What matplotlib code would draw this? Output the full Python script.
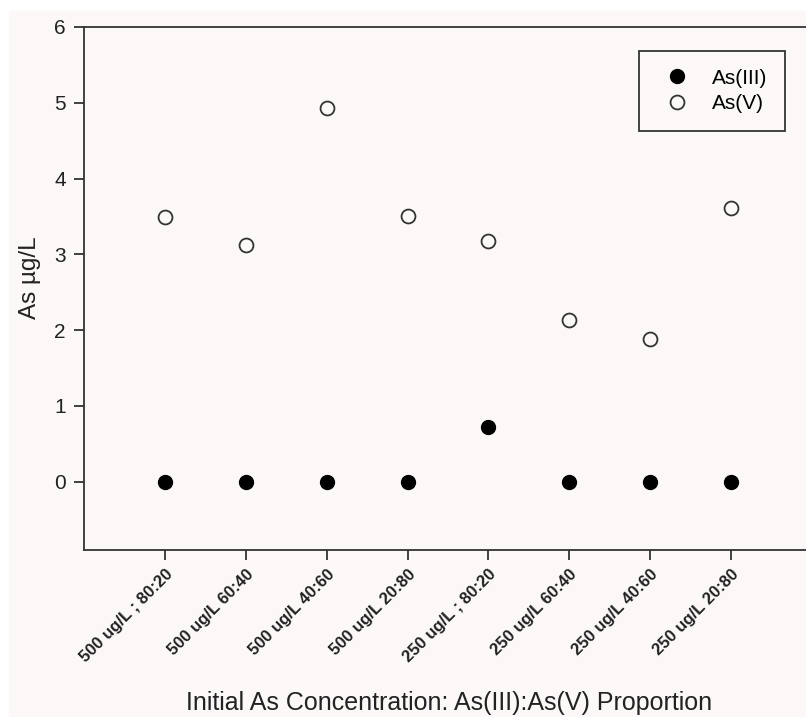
import matplotlib.pyplot as plt
from matplotlib.patches import Rectangle

plt.rcParams['font.family'] = ['Liberation Sans', 'DejaVu Sans']

# Data
categories = [
    "500 ug/L ; 80:20", "500 ug/L 60:40", "500 ug/L 40:60", "500 ug/L 20:80",
    "250 ug/L ; 80:20", "250 ug/L 60:40", "250 ug/L 40:60", "250 ug/L 20:80",
]
as_iii = [0.0, 0.0, 0.0, 0.0, 0.72, 0.0, 0.0, 0.0]
as_v = [3.49, 3.12, 4.93, 3.51, 3.18, 2.13, 1.89, 3.61]

BG = "#fcf8f7"
INK = "#222222"

fig = plt.figure(figsize=(8.06, 7.17), dpi=100, facecolor="white")
fig.patches.append(Rectangle((9 / 806, 0), 1, 1 - 11 / 717,
                             transform=fig.transFigure, color=BG, zorder=-1))

W, H = 806, 717
left, right, top, bottom = 84, 812, 27, 550
ax = fig.add_axes([left / W, 1 - bottom / H, (right - left) / W, (bottom - top) / H])
ax.set_facecolor(BG)

x = list(range(1, len(categories) + 1))
ax.plot(x, as_iii, linestyle="none", marker="o", markersize=10,
        markerfacecolor="black", markeredgecolor="black", label="As(III)")
ax.plot(x, as_v, linestyle="none", marker="o", markersize=10,
        markerfacecolor=BG, markeredgecolor="#333333", markeredgewidth=1.3,
        label="As(V)")

ax.set_xlim(0, 9)
ax.set_ylim(-0.9, 6)
ax.set_yticks(range(0, 7))
ax.set_xticks(x)
ax.set_xticklabels(categories, rotation=45, ha="right", rotation_mode="anchor",
                   fontsize=12, fontweight="bold", color=INK)
ax.tick_params(axis="y", labelsize=15, colors=INK, length=7, width=1.2,
               direction="out", pad=6)
ax.tick_params(axis="x", length=7, width=1.2, direction="out", colors=INK, pad=5)

ax.spines["right"].set_visible(False)
for side in ["left", "top", "bottom"]:
    ax.spines[side].set_linewidth(1.3)
    ax.spines[side].set_color("#333333")

ax.set_ylabel("As µg/L", fontsize=17.5, color=INK, va="center")
ax.yaxis.set_label_coords((30 - left) / (right - left), 0.52)
ax.set_xlabel("Initial As Concentration: As(III):As(V) Proportion",
              fontsize=18, color=INK, va="center")
ax.xaxis.set_label_coords((449 - left) / (right - left), (bottom - 703) / (bottom - top))

leg = ax.legend(loc="upper left",
                bbox_to_anchor=((639 - left) / (right - left), 1 - (51 - top) / (bottom - top)),
                frameon=True, fancybox=False, fontsize=15, borderpad=0.85,
                handletextpad=0.75, labelspacing=0.3, borderaxespad=0,
                handlelength=1.9)
leg.get_frame().set_edgecolor("#333333")
leg.get_frame().set_linewidth(1.3)
leg.get_frame().set_facecolor(BG)
leg.get_frame().set_alpha(1)

fig.savefig("out.png", dpi=100, facecolor="white")
